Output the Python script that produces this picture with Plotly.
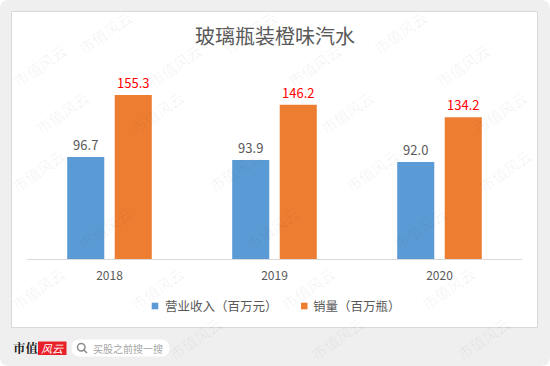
import plotly.graph_objects as go

categories = ["2018", "2019", "2020"]
revenue = [96.7, 93.9, 92.0]
sales = [155.3, 146.2, 134.2]
revenue_labels = ["96.7", "93.9", "92.0"]
sales_labels = ["155.3", "146.2", "134.2"]
series_names = ["营业收入（百万元）", "销量（百万瓶）"]
title_text = "玻璃瓶装橙味汽水"

W, H = 550, 366
ML, MR, MT, MB = 27, 28, 69, 107
PW = W - ML - MR
PH = H - MT - MB

def px(x):
    return (x - ML) / PW

def py(y):
    return (H - MB - y) / PH

def rrect(x0, y0, x1, y1, r):
    return (f"M {px(x0 + r)} {py(y0)} L {px(x1 - r)} {py(y0)} "
            f"Q {px(x1)} {py(y0)} {px(x1)} {py(y0 + r)} "
            f"L {px(x1)} {py(y1 - r)} "
            f"Q {px(x1)} {py(y1)} {px(x1 - r)} {py(y1)} "
            f"L {px(x0 + r)} {py(y1)} "
            f"Q {px(x0)} {py(y1)} {px(x0)} {py(y1 - r)} "
            f"L {px(x0)} {py(y0 + r)} "
            f"Q {px(x0)} {py(y0)} {px(x0 + r)} {py(y0)} Z")

FONT = "Microsoft YaHei, Noto Sans CJK SC, sans-serif"
GRAY = "#595959"
BLUE = "#5b9bd5"
ORANGE = "#ed7d31"

fig = go.Figure()
fig.add_trace(go.Bar(
    x=categories, y=revenue, name=series_names[0],
    marker=dict(color=BLUE, line=dict(width=0)),
    text=revenue_labels, textposition="outside", cliponaxis=False,
    textfont=dict(color=GRAY, size=13, family=FONT),
    hoverinfo="skip",
))
fig.add_trace(go.Bar(
    x=categories, y=sales, name=series_names[1],
    marker=dict(color=ORANGE, line=dict(width=0)),
    text=sales_labels, textposition="outside", cliponaxis=False,
    textfont=dict(color="#ff0000", size=13, family=FONT),
    hoverinfo="skip",
))

shapes = [
    # gray rounded card
    dict(type="path", xref="paper", yref="paper", layer="below",
         path=rrect(0, 0, 550, 366, 9), fillcolor="#efefef", line=dict(width=0)),
    # white chart panel
    dict(type="rect", xref="paper", yref="paper", layer="below",
         x0=px(11.5), x1=px(537.5), y0=py(327.5), y1=py(11.5),
         fillcolor="white", line=dict(color="#d9d9d9", width=1)),
    # search box
    dict(type="path", xref="paper", yref="paper", layer="below",
         path=rrect(71.5, 339.5, 169.5, 356.5, 8.5),
         fillcolor="white", line=dict(width=0)),
    # red logo box
    dict(type="rect", xref="paper", yref="paper", layer="above",
         x0=px(38), x1=px(66.5), y0=py(355), y1=py(341.5),
         fillcolor="#e8202a", line=dict(width=0)),
    # magnifier
    dict(type="circle", xref="paper", yref="paper", layer="above",
         x0=px(77.5), x1=px(85), y0=py(351), y1=py(343.5),
         line=dict(color="#8c8c8c", width=1.5)),
    dict(type="line", xref="paper", yref="paper", layer="above",
         x0=px(84), x1=px(87), y0=py(350), y1=py(353),
         line=dict(color="#8c8c8c", width=1.5)),
    # legend markers
    dict(type="rect", xref="paper", yref="paper", layer="above",
         x0=px(151.7), x1=px(158.3), y0=py(309.3), y1=py(302.7),
         fillcolor=BLUE, line=dict(width=0)),
    dict(type="rect", xref="paper", yref="paper", layer="above",
         x0=px(301), x1=px(307.5), y0=py(309.3), y1=py(302.7),
         fillcolor=ORANGE, line=dict(width=0)),
]

annotations = []

wm_rows = [
    (32, [105, 250, 400]),
    (66, [40, 175, 315, 463]),
    (112, [62, 157, 347, 500]),
    (170, [38, 235, 372, 505]),
    (228, [105, 272, 420]),
    (288, [38, 157, 308, 448]),
    (338, [195, 337, 483]),
]
for wy, xs in wm_rows:
    for wx in xs:
        annotations.append(dict(
            text="市值风云", xref="paper", yref="paper", x=px(wx), y=py(wy),
            showarrow=False, textangle=-35,
            font=dict(size=15, color="rgba(0,0,0,0.06)", family=FONT),
            xanchor="center", yanchor="middle"))

annotations += [
    dict(text=title_text, xref="paper", yref="paper", x=px(275), y=py(35.5),
         showarrow=False, font=dict(size=20, color=GRAY, family=FONT),
         xanchor="center", yanchor="middle"),
    dict(text=series_names[0], xref="paper", yref="paper", x=px(162.5), y=py(305.5),
         showarrow=False, font=dict(size=12.5, color=GRAY, family=FONT),
         xanchor="left", yanchor="middle"),
    dict(text=series_names[1], xref="paper", yref="paper", x=px(311), y=py(305.5),
         showarrow=False, font=dict(size=12.5, color=GRAY, family=FONT),
         xanchor="left", yanchor="middle"),
    dict(text="<b>市值</b>", xref="paper", yref="paper", x=px(10.5), y=py(348.3),
         showarrow=False, font=dict(size=12.5, color="#1a1a1a",
                                    family="Noto Serif CJK SC, Noto Sans CJK SC, serif"),
         xanchor="left", yanchor="middle"),
    dict(text="<i>风云</i>", xref="paper", yref="paper", x=px(52), y=py(348.3),
         showarrow=False, font=dict(size=11, color="white", family=FONT),
         xanchor="center", yanchor="middle"),
    dict(text="买股之前搜一搜", xref="paper", yref="paper", x=px(90.5), y=py(348),
         showarrow=False, font=dict(size=10, color="#a6a6a6", family=FONT),
         xanchor="left", yanchor="middle"),
]

fig.update_layout(
    width=W, height=H,
    margin=dict(l=ML, r=MR, t=MT, b=MB, autoexpand=False),
    paper_bgcolor="white", plot_bgcolor="rgba(0,0,0,0)",
    barmode="group", bargap=0.424, bargroupgap=0.22,
    font=dict(family=FONT, color=GRAY),
    showlegend=False, hovermode=False, dragmode=False,
    xaxis=dict(showgrid=False, showline=True, linecolor="#d9d9d9", linewidth=1,
               ticks="", tickfont=dict(size=12, color=GRAY, family=FONT),
               ticklabelstandoff=6, fixedrange=True),
    yaxis=dict(range=[0, 180], visible=False, showgrid=False, fixedrange=True),
    shapes=shapes, annotations=annotations,
)

fig.write_html("out.html",
               config={"displayModeBar": False, "staticPlot": True},
               post_script="document.body.style.margin='0';document.body.style.overflow='hidden';")
